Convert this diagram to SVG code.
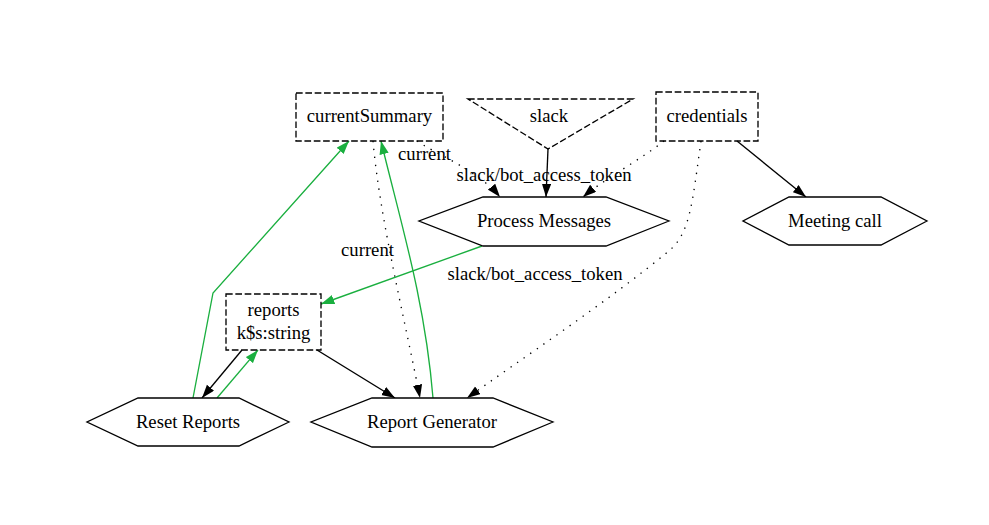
<svg xmlns="http://www.w3.org/2000/svg" width="989" height="525" viewBox="0 0 989 525">
<style>
text{font-family:"Liberation Serif","Times New Roman",serif;font-size:18.67px;fill:#000;text-anchor:middle}
.n{fill:#fff;stroke:#000;stroke-width:1.33}
.d{fill:none;stroke:#000;stroke-width:1.33;stroke-dasharray:6.67,2.67}
.e{fill:none;stroke:#000;stroke-width:1.33}
.dot{stroke-dasharray:1.33,6.67}
.g{stroke:#1aaf3f}
</style>
<defs>
<marker id="ab" markerUnits="userSpaceOnUse" markerWidth="14" markerHeight="10" refX="13.3" refY="4.67" orient="auto"><path d="M0,0 L13.3,4.67 L0,9.33 z" fill="#000"/></marker>
<marker id="ag" markerUnits="userSpaceOnUse" markerWidth="14" markerHeight="10" refX="13.3" refY="4.67" orient="auto"><path d="M0,0 L13.3,4.67 L0,9.33 z" fill="#1aaf3f"/></marker>
</defs>
<rect width="989" height="525" fill="#fff"/>
<g id="connectors">
<path class="e" d="M548,149 L546,197" marker-end="url(#ab)"/>
<path class="e dot" d="M417,141 C432,152 478,170 500,197" marker-end="url(#ab)"/>
<path class="e dot" d="M664,141 C640,160 603,180 583,197" marker-end="url(#ab)"/>
<path class="e" d="M737,141 L806,197" marker-end="url(#ab)"/>
<path class="e dot" d="M701,141 C692,205 690,232 670,250 C610,300 520,360 467,398" marker-end="url(#ab)"/>
<path class="e dot" d="M373,141 C380,220 405,320 420,398" marker-end="url(#ab)"/>
<path class="e g" d="M433,398 C425,300 400,220 381,141" marker-end="url(#ag)"/>
<path class="e g" d="M193,398 L213,293 L349,141" marker-end="url(#ag)"/>
<path class="e g" d="M482,246 L321,304" marker-end="url(#ag)"/>
<path class="e" d="M242,350 L202,398" marker-end="url(#ab)"/>
<path class="e g" d="M217,398 L258,350" marker-end="url(#ag)"/>
<path class="e" d="M317,350 L395,398" marker-end="url(#ab)"/>
<text x="424.5" y="160">current</text>
<text x="544" y="181">slack/bot_access_token</text>
<text x="367.5" y="256">current</text>
<text x="535" y="280">slack/bot_access_token</text>
</g>
<g id="currentSummary"><rect class="d" x="296" y="93" width="147" height="48" fill="#fff"/><text x="369.5" y="122">currentSummary</text></g>
<g id="slack"><polygon class="d" points="468,99 633,99 548,149"/><text x="549" y="122">slack</text></g>
<g id="credentials"><rect class="d" x="656" y="92" width="102" height="49"/><text x="707" y="122">credentials</text></g>
<g id="process-messages"><polygon class="n" points="669,221 606,246 483,246 419,221 483,197 606,197"/><text x="544" y="227">Process Messages</text></g>
<g id="meeting-call"><polygon class="n" points="927,221 881,245 789,245 743,221 789,197 881,197"/><text x="835" y="227">Meeting call</text></g>
<g id="reports"><rect class="d" x="226" y="294" width="95" height="56"/><text x="273.5" y="316">reports</text><text x="273.5" y="339">k$s:string</text></g>
<g id="reset-reports"><polygon class="n" points="289,422 239,446 138,446 87,422 138,398 239,398"/><text x="188" y="428">Reset Reports</text></g>
<g id="report-generator"><polygon class="n" points="553,422 493,447 372,447 311,422 372,398 493,398"/><text x="432" y="428">Report Generator</text></g>
</svg>
